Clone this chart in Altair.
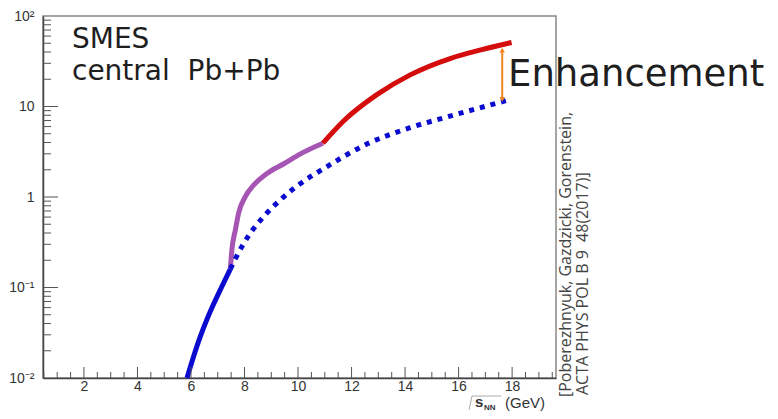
import altair as alt
import pandas as pd

# ---- data ----
blue_x = [5.85, 6.1, 6.35, 6.6, 6.85, 7.15, 7.47]
blue_y = [0.01, 0.0174, 0.0288, 0.0447, 0.0661, 0.102, 0.16]

purple_x = [7.47, 7.53, 7.66, 7.78, 8.03, 8.34, 8.84, 9.47, 10.09, 10.93]
purple_y = [0.16, 0.264, 0.435, 0.664, 1.01, 1.35, 1.82, 2.33, 3.0, 3.93]

red_x = [10.93, 11.71, 12.96, 14.21, 15.71, 16.83, 17.98]
red_y = [3.93, 6.95, 13.6, 22.5, 34.1, 42.2, 51.0]

dot_x = [7.47, 7.91, 8.22, 8.72, 9.34, 10.09, 10.96, 12.59, 14.21, 15.71, 17.95]
dot_y = [0.16, 0.286, 0.40, 0.61, 0.93, 1.41, 2.06, 3.87, 5.86, 7.87, 12.0]

arrow_x = [17.63]
arrow_top = [42.0]
arrow_bottom = [12.0]

x_major = [2, 4, 6, 8, 10, 12, 14, 16, 18]
x_minor = [0.5, 1, 1.5, 2.5, 3, 3.5, 4.5, 5, 5.5, 6.5, 7, 7.5, 8.5, 9, 9.5,
           10.5, 11, 11.5, 12.5, 13, 13.5, 14.5, 15, 15.5, 16.5, 17, 17.5,
           18.5, 19, 19.5]
y_label_vals = [0.01, 0.1, 1, 10, 100]
y_major = [0.1, 1, 10]
y_minor = [0.02, 0.03, 0.04, 0.05, 0.06, 0.07, 0.08, 0.09,
           0.2, 0.3, 0.4, 0.5, 0.6, 0.7, 0.8, 0.9,
           2, 3, 4, 5, 6, 7, 8, 9,
           20, 30, 40, 50, 60, 70, 80, 90]

title_lines = ["SMES", "central\u00a0 Pb+Pb"]
enh_text = "Enhancement"
cite_lines = ["[Poberezhnyuk, Gazdzicki, Gorenstein,",
              "ACTA PHYS POL B 9\u00a0 48(2017)]"]

# ---- layout ----
W, H = 513, 362
xs = alt.Scale(domain=[0.47, 19.64], nice=False, zero=False)
ys = alt.Scale(type="log", domain=[0.01, 100], nice=False)

BLUE = "#0b0bd0"
PURPLE = "#a655b4"
RED = "#d40c0c"
ORANGE = "#ef8420"
TICK = "#555555"

x_axis = alt.Axis(values=x_major, title=None, ticks=False, grid=False,
                  labelFont="Liberation Sans", labelFontSize=14, labelColor="#333333",
                  labelPadding=1, domainColor="#444444", domainWidth=1.5, labelFlush=False)
y_axis = alt.Axis(values=y_label_vals, title=None, ticks=False, grid=False,
                  labelExpr="datum.value >= 99 ? '10²' : datum.value >= 9 ? '10' : datum.value >= 0.9 ? '1' : datum.value >= 0.09 ? '10⁻¹' : '10⁻²'",
                  labelFont="Liberation Sans", labelFontSize=14, labelColor="#333333",
                  labelPadding=9, domainColor="#444444", domainWidth=1.5, labelFlush=False)


def X(field):
    return alt.X(field, scale=xs, axis=x_axis)


def Y(field):
    return alt.Y(field, scale=ys, axis=y_axis)


def seg(xv, yv, color, dash=None):
    df = pd.DataFrame({"x": xv, "y": yv})
    kw = dict(color=color, strokeWidth=5, interpolate="monotone", strokeCap="butt")
    if dash:
        kw["strokeDash"] = dash
    return alt.Chart(df).mark_line(**kw).encode(x=X("x:Q"), y=Y("y:Q"))


def yticks(vals, length):
    return alt.Chart(pd.DataFrame({"v": vals})).mark_rule(color=TICK, strokeWidth=1).encode(
        y=Y("v:Q"), x=alt.value(0), x2=alt.value(length))


def xticks(vals, length):
    return alt.Chart(pd.DataFrame({"v": vals})).mark_rule(color=TICK, strokeWidth=1).encode(
        x=X("v:Q"), y=alt.value(H), y2=alt.value(H - length))


def label(text, px, py, **kw):
    return alt.Chart(pd.DataFrame({"t": [text]})).mark_text(**kw).encode(
        x=alt.value(px), y=alt.value(py), text="t:N")


def line_px(x1, y1, x2, y2, color="#aaaaaa"):
    return alt.Chart(pd.DataFrame({"d": [0]})).mark_rule(color=color, strokeWidth=1).encode(
        x=alt.value(x1), y=alt.value(y1), x2=alt.value(x2), y2=alt.value(y2))


blue = seg(blue_x, blue_y, BLUE)
purple = seg(purple_x, purple_y, PURPLE)
red = seg(red_x, red_y, RED)
dotted = seg(dot_x, dot_y, BLUE, dash=[5, 6])

arrow_df = pd.DataFrame({"x": arrow_x, "top": arrow_top, "bottom": arrow_bottom})
arrow = alt.Chart(arrow_df).mark_rule(color=ORANGE, strokeWidth=2).encode(
    x=X("x:Q"), y=Y("top:Q"), y2="bottom:Q")
head_up = alt.Chart(arrow_df).mark_point(shape="triangle-up", filled=True, size=30,
                                         color=ORANGE, opacity=1).encode(
    x=X("x:Q"), y=Y("top:Q"))
head_dn = alt.Chart(arrow_df).mark_point(shape="triangle-down", filled=True, size=30,
                                         color=ORANGE, opacity=1).encode(
    x=X("x:Q"), y=Y("bottom:Q"))

TXT = "#1e1e1e"
texts = [
    label(title_lines[0], 29, 32, font="DejaVu Sans", fontSize=28, color=TXT, align="left", baseline="alphabetic"),
    label(title_lines[1], 29, 64, font="DejaVu Sans", fontSize=28, color=TXT, align="left", baseline="alphabetic"),
    label(enh_text, 465, 70, font="DejaVu Sans", fontSize=37, color=TXT, align="left", baseline="alphabetic"),
    label(cite_lines[0], 523, 381, font="Open Sans", fontSize=16, color="#444444", align="left",
          baseline="middle", angle=270),
    label(cite_lines[1], 540, 379, font="Open Sans", fontSize=16, color="#444444", align="left",
          baseline="middle", angle=270),
    label("s", 432, 391, font="Liberation Sans", fontSize=15, fontWeight="bold", color="#333333",
          align="left", baseline="alphabetic"),
    label("NN", 441, 394, font="Liberation Sans", fontSize=8, fontWeight="bold", color="#333333",
          align="left", baseline="alphabetic"),
    label("(GeV)", 462, 392, font="Liberation Sans", fontSize=15, color="#333333",
          align="left", baseline="alphabetic"),
    line_px(426, 394, 429, 380),
    line_px(429, 380, 458, 380),
]

chart = alt.layer(
    blue, purple, red, dotted,
    yticks(y_major, 15), yticks(y_minor, 8),
    xticks(x_major, 11), xticks(x_minor, 6),
    arrow, head_up, head_dn,
    *texts,
).properties(
    width=W, height=H,
    autosize=alt.AutoSizeParams(type="none"),
    padding={"left": 35, "top": 8, "right": 214, "bottom": 33},
).configure_view(
    stroke="#888888", strokeWidth=1.5
).configure_axis(grid=False)

chart.save("out.html", embed_options={"renderer": "svg", "actions": False})
